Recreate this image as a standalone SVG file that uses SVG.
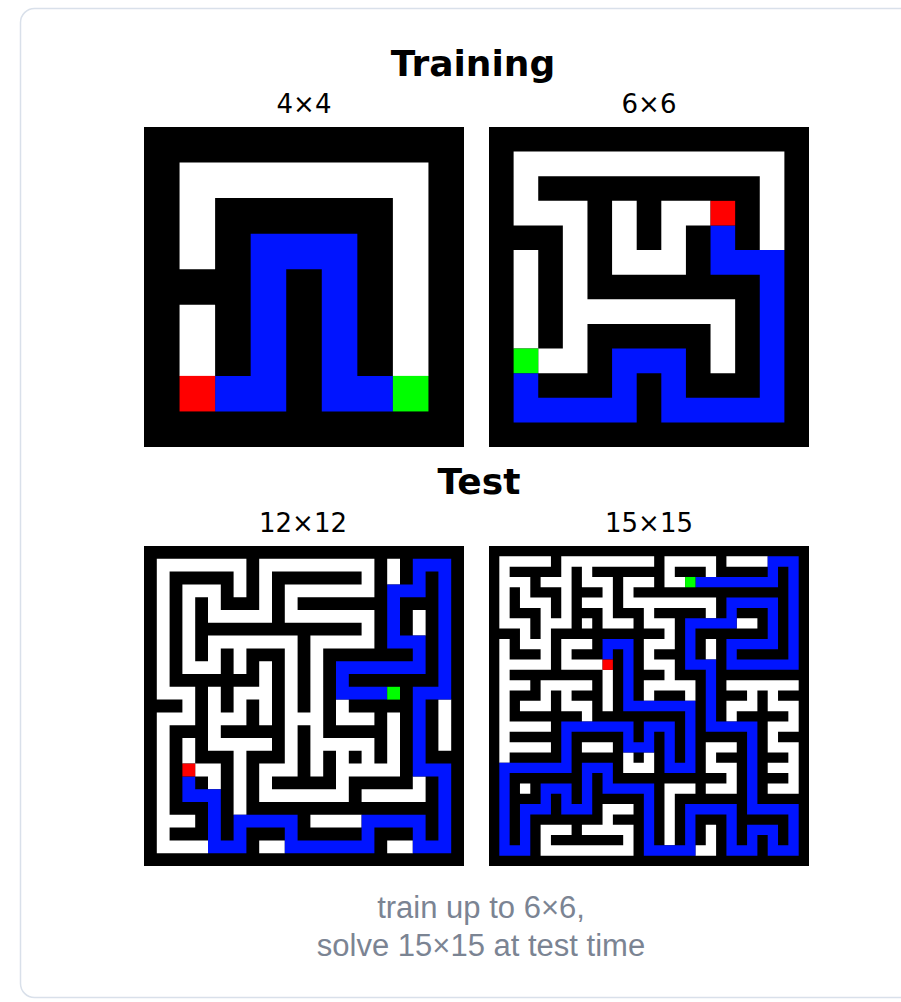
<svg xmlns="http://www.w3.org/2000/svg" width="901" height="1002" viewBox="0 0 901 1002">
<style>
.t{font-family:"DejaVu Sans",sans-serif;fill:#000;text-anchor:middle}
.b{font-weight:bold;font-size:36px}
.s{font-size:26px}
.c{font-family:"Liberation Sans",Arial,sans-serif;fill:#7b8493;font-size:31px;text-anchor:middle}
.w{fill:#fff}.u{fill:#0014ff}.r{fill:#ff0000}.g{fill:#00ff00}.k{fill:#000}
</style>
<rect x="20.5" y="8.5" width="900" height="989" rx="14" fill="#fff" stroke="#d9e0ea" stroke-width="1.5"/>
<g id="labels">
<text class="t b" x="473" y="76">Training</text>
<text class="t s" x="304" y="113">4×4</text>
<text class="t s" x="649" y="113">6×6</text>
<text class="t b" x="479" y="494">Test</text>
<text class="t s" x="303" y="532">12×12</text>
<text class="t s" x="649" y="532">15×15</text>
<text class="c" x="481" y="918">train up to 6×6,</text>
<text class="c" x="481" y="956">solve 15×15 at test time</text>
</g>
<g id="maze4" transform="translate(144,127) scale(35.5556)">
<rect class="k" width="9" height="9"/>
<path class="w" d="M1 1h7v1h-7zM1 2h1v2h-1zM7 2h1v5h-1zM1 5h1v2h-1z"/>
<path class="u" d="M3 3h3v1h-3zM3 4h1v4h-1zM5 4h1v4h-1zM2 7h1v1h-1zM6 7h1v1h-1z"/>
<rect class="r" x="1" y="7" width="1" height="1"/>
<rect class="g" x="7" y="7" width="1" height="1"/>
</g>
<g id="maze6" transform="translate(489,127) scale(24.6154)">
<rect class="k" width="13" height="13"/>
<path class="w" d="M1 1h11v1h-11zM1 2h1v2h-1zM2 3h2v1h-2zM3 4h1v6h-1zM11 2h1v3h-1zM5 3h1v3h-1zM6 5h2v1h-2zM7 3h1v2h-1zM8 3h1v1h-1zM1 5h1v4h-1zM4 7h6v1h-6zM9 8h1v2h-1zM2 9h1v1h-1z"/>
<path class="u" d="M9 4h1v2h-1zM10 5h2v1h-2zM11 6h1v6h-1zM1 11h5v1h-5zM7 11h4v1h-4zM1 10h1v1h-1zM5 9h1v2h-1zM6 9h2v1h-2zM7 10h1v1h-1z"/>
<rect class="r" x="9" y="3" width="1" height="1"/>
<rect class="g" x="1" y="9" width="1" height="1"/>
</g>
<g id="maze12" transform="translate(144,546) scale(12.8)">
<rect class="k" width="25" height="25"/>
<path class="w" d="M1 1h7v1h-7zM9 1h9v1h-9zM19 1h1v1h-1z
M1 2h1v1h-1zM7 2h1v1h-1zM9 2h1v1h-1zM17 2h1v1h-1zM19 2h1v1h-1z
M1 3h1v1h-1zM3 3h3v1h-3zM7 3h1v1h-1zM9 3h1v1h-1zM11 3h7v1h-7z
M1 4h1v1h-1zM3 4h1v1h-1zM5 4h1v1h-1zM9 4h1v1h-1zM11 4h1v1h-1z
M1 5h1v1h-1zM3 5h1v1h-1zM5 5h5v1h-5zM11 5h7v1h-7zM21 5h1v1h-1z
M1 6h1v1h-1zM3 6h1v1h-1zM17 6h1v1h-1zM21 6h1v1h-1z
M1 7h1v1h-1zM3 7h1v1h-1zM5 7h7v1h-7zM13 7h5v1h-5z
M1 8h1v1h-1zM3 8h1v1h-1zM5 8h1v1h-1zM7 8h1v1h-1zM11 8h1v1h-1zM13 8h1v1h-1z
M1 9h1v1h-1zM3 9h3v1h-3zM7 9h1v1h-1zM9 9h1v1h-1zM11 9h1v1h-1zM13 9h1v1h-1z
M1 10h1v1h-1zM9 10h1v1h-1zM11 10h1v1h-1zM13 10h1v1h-1z
M1 11h3v1h-3zM5 11h1v1h-1zM7 11h3v1h-3zM11 11h1v1h-1zM13 11h1v1h-1z
M3 12h1v1h-1zM5 12h1v1h-1zM7 12h1v1h-1zM9 12h1v1h-1zM11 12h1v1h-1zM13 12h1v1h-1zM15 12h1v1h-1zM23 12h1v1h-1z
M1 13h3v1h-3zM5 13h3v1h-3zM9 13h1v1h-1zM11 13h3v1h-3zM15 13h3v1h-3zM19 13h1v1h-1zM23 13h1v1h-1z
M1 14h1v1h-1zM5 14h1v1h-1zM11 14h1v1h-1zM13 14h1v1h-1zM19 14h1v1h-1zM23 14h1v1h-1z
M1 15h1v1h-1zM3 15h1v1h-1zM5 15h5v1h-5zM11 15h1v1h-1zM13 15h5v1h-5zM19 15h1v1h-1zM23 15h1v1h-1z
M1 16h1v1h-1zM3 16h1v1h-1zM7 16h1v1h-1zM11 16h1v1h-1zM13 16h1v1h-1zM15 16h1v1h-1zM17 16h1v1h-1zM19 16h1v1h-1z
M1 17h1v1h-1zM4 17h2v1h-2zM7 17h1v1h-1zM9 17h3v1h-3zM13 17h1v1h-1zM15 17h5v1h-5z
M1 18h1v1h-1zM5 18h1v1h-1zM7 18h1v1h-1zM9 18h1v1h-1zM15 18h1v1h-1zM21 18h1v1h-1z
M1 19h1v1h-1zM7 19h1v1h-1zM9 19h7v1h-7zM17 19h5v1h-5z
M1 20h1v1h-1zM7 20h1v1h-1z
M1 21h3v1h-3zM13 21h4v1h-4z
M1 22h1v1h-1z
M1 23h4v1h-4zM9 23h2v1h-2zM19 23h2v1h-2z"/>
<path class="u" d="M3 18h1v2h-1zM4 19h2v1h-2zM5 20h1v4h-1zM6 23h2v1h-2zM7 21h1v2h-1zM8 21h4v1h-4zM11 22h1v2h-1zM12 23h6v1h-6zM17 21h1v2h-1zM18 21h4v1h-4zM21 22h1v2h-1zM22 23h2v1h-2zM23 17h1v6h-1zM21 17h2v1h-2zM21 11h1v6h-1zM22 11h2v1h-2zM23 1h1v10h-1zM21 1h2v1h-2zM21 2h1v2h-1zM19 3h2v1h-2zM19 4h1v4h-1zM20 7h2v1h-2zM21 8h1v2h-1zM15 9h6v1h-6zM15 10h1v2h-1zM16 11h3v1h-3z"/>
<rect class="r" x="3" y="17" width="1" height="1"/>
<rect class="g" x="19" y="11" width="1" height="1"/>
</g>
<g id="maze15" transform="translate(489,546) scale(10.3226)">
<rect class="k" width="31" height="31"/>
<path class="w" d="M1 1h5v1h-5zM7 1h9v1h-9zM17 1h5v1h-5zM23 1h4v1h-4z
M1 2h1v1h-1zM7 2h1v1h-1zM9 2h1v1h-1zM17 2h1v1h-1zM21 2h1v1h-1z
M1 3h3v1h-3zM5 3h3v1h-3zM9 3h3v1h-3zM13 3h3v1h-3zM17 3h2v1h-2z
M1 4h1v1h-1zM3 4h1v1h-1zM7 4h1v1h-1zM11 4h1v1h-1zM13 4h1v1h-1z
M1 5h1v1h-1zM3 5h3v1h-3zM7 5h1v1h-1zM9 5h3v1h-3zM13 5h9v1h-9z
M1 6h1v1h-1zM5 6h1v1h-1zM7 6h1v1h-1zM11 6h1v1h-1zM15 6h1v1h-1zM21 6h1v1h-1z
M1 7h3v1h-3zM5 7h3v1h-3zM9 7h1v1h-1zM11 7h3v1h-3zM15 7h3v1h-3zM24 7h2v1h-2z
M3 8h1v1h-1zM5 8h1v1h-1zM17 8h1v1h-1z
M1 9h1v1h-1zM3 9h3v1h-3zM7 9h3v1h-3zM15 9h3v1h-3zM21 9h1v1h-1z
M1 10h1v1h-1zM5 10h1v1h-1zM7 10h1v1h-1zM15 10h1v1h-1zM21 10h1v1h-1z
M1 11h5v1h-5zM7 11h4v1h-4zM15 11h3v1h-3z
M1 12h1v1h-1zM11 12h1v1h-1zM17 12h1v1h-1z
M1 13h3v1h-3zM5 13h5v1h-5zM11 13h1v1h-1zM15 13h5v1h-5zM23 13h7v1h-7z
M1 14h1v1h-1zM5 14h1v1h-1zM7 14h1v1h-1zM11 14h1v1h-1zM15 14h1v1h-1zM19 14h1v1h-1zM25 14h1v1h-1zM27 14h1v1h-1z
M1 15h1v1h-1zM3 15h3v1h-3zM7 15h3v1h-3zM11 15h1v1h-1zM23 15h3v1h-3zM27 15h3v1h-3z
M1 16h1v1h-1zM9 16h1v1h-1zM23 16h1v1h-1zM29 16h1v1h-1z
M1 17h5v1h-5zM27 17h3v1h-3z
M1 18h1v1h-1zM27 18h1v1h-1z
M1 19h5v1h-5zM9 19h3v1h-3zM21 19h3v1h-3zM27 19h3v1h-3z
M1 20h1v1h-1zM13 20h1v1h-1zM15 20h1v1h-1zM21 20h1v1h-1zM29 20h1v1h-1z
M13 21h3v1h-3zM21 21h3v1h-3zM27 21h3v1h-3z
M23 22h1v1h-1zM29 22h1v1h-1z
M3 23h1v1h-1zM17 23h3v1h-3zM21 23h3v1h-3zM27 23h3v1h-3z
M17 24h1v1h-1z
M11 25h3v1h-3zM17 25h1v1h-1z
M11 26h1v1h-1zM17 26h1v1h-1z
M5 27h3v1h-3zM9 27h5v1h-5zM17 27h1v1h-1zM21 27h1v1h-1z
M5 28h1v1h-1zM13 28h1v1h-1zM17 28h1v1h-1zM21 28h1v1h-1z
M5 29h9v1h-9zM20 29h2v1h-2z"/>
<path class="u" d="M11 9h3v1h-3zM11 9h1v2h-1zM13 9h1v7h-1zM13 15h7v1h-7zM19 15h1v7h-1zM17 21h3v1h-3zM17 17h1v5h-1zM15 17h3v1h-3zM15 17h1v3h-1zM13 19h3v1h-3zM13 17h1v3h-1zM7 17h7v1h-7zM7 17h1v5h-1zM1 21h7v1h-7zM1 21h1v9h-1zM1 29h3v1h-3zM3 25h1v5h-1zM3 25h3v1h-3zM5 23h1v3h-1zM5 23h3v1h-3zM7 23h1v3h-1zM7 25h3v1h-3zM9 21h1v5h-1zM9 21h3v1h-3zM11 21h1v3h-1zM11 23h5v1h-5zM15 23h1v7h-1zM15 29h5v1h-5zM19 25h1v5h-1zM19 25h5v1h-5zM23 25h1v5h-1zM23 29h3v1h-3zM25 27h1v3h-1zM25 27h3v1h-3zM27 27h1v3h-1zM27 29h3v1h-3zM29 25h1v5h-1zM25 25h5v1h-5zM25 17h1v9h-1zM21 17h5v1h-5zM21 11h1v7h-1zM19 11h3v1h-3zM19 7h1v5h-1zM19 7h5v1h-5zM23 5h1v3h-1zM23 5h5v1h-5zM27 5h1v5h-1zM23 9h5v1h-5zM23 9h1v3h-1zM23 11h7v1h-7zM29 1h1v11h-1zM27 1h3v1h-3zM27 1h1v3h-1zM20 3h8v1h-8z"/>
<rect class="r" x="11" y="11" width="1" height="1"/>
<rect class="g" x="19" y="3" width="1" height="1"/>
</g>
</svg>
